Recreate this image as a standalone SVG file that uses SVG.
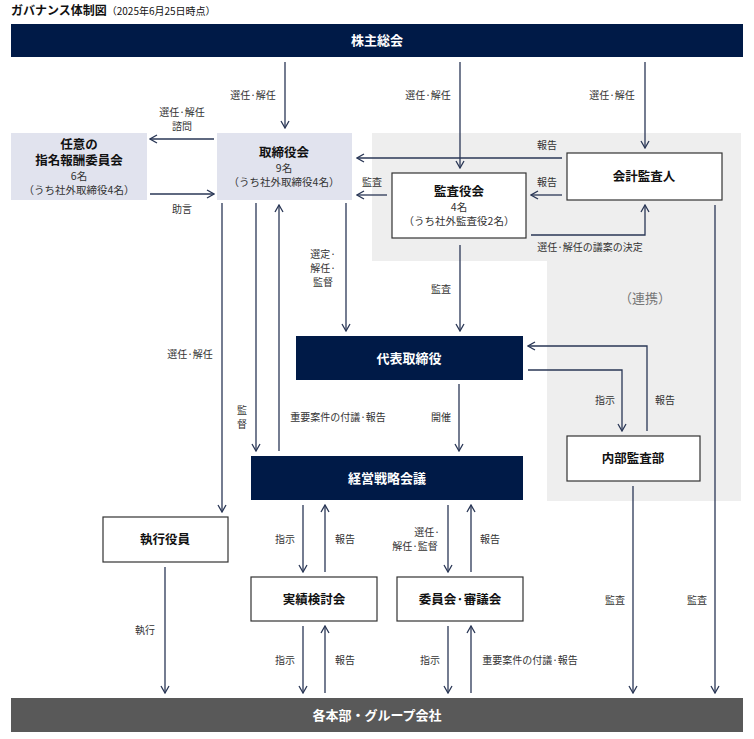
<svg xmlns="http://www.w3.org/2000/svg" width="754" height="739" viewBox="0 0 754 739">
<style>
text{font-family:"Noto Sans CJK JP","Noto Sans",sans-serif;}
.t{font-size:10px;fill:#333;text-anchor:middle}
.b{font-size:12.5px;font-weight:bold;text-anchor:middle;fill:#111}
.w{font-size:13px;font-weight:bold;text-anchor:middle;fill:#fff}
.s{font-size:10.5px;text-anchor:middle;fill:#333}
.navy{fill:#001a47}
.lav{fill:#e1e3ee}
.box{fill:#fff;stroke:#333;stroke-width:1.2}
.c line,.c polyline{stroke:#2a3756;stroke-width:1.3;fill:none;marker-end:url(#a)}
</style>
<defs>
<marker id="a" viewBox="0 0 10 10" refX="9" refY="5" markerWidth="10" markerHeight="10" markerUnits="userSpaceOnUse" orient="auto">
<polyline points="2,1 9,5 2,9" fill="none" stroke="#2a3756" stroke-width="1.3"/>
</marker>
</defs>
<rect width="754" height="739" fill="#fff"/>
<polygon points="372,133 741,133 741,501 547,501 547,261 372,261" fill="#eeeeee"/>
<text x="11" y="15" style="font-size:12px;font-weight:bold;fill:#111">ガバナンス体制図<tspan style="font-size:10px;font-weight:normal">（2025年6月25日時点）</tspan></text>
<text x="645" y="303" style="font-size:13px;fill:#777;text-anchor:middle">（連携）</text>

<g id="kabunushi"><rect class="navy" x="11" y="24" width="732" height="33"/><text class="w" x="377" y="45">株主総会</text></g>
<g id="nin-i"><rect class="lav" x="11" y="133" width="136" height="67"/><text class="b" x="79" y="149">任意の</text><text class="b" x="79" y="165">指名報酬委員会</text><text class="s" x="79" y="180">6名</text><text class="s" x="79" y="194">（うち社外取締役4名）</text></g>
<g id="torishimariyakukai"><rect class="lav" x="217" y="133" width="135" height="67"/><text class="b" x="284" y="157">取締役会</text><text class="s" x="284" y="172">9名</text><text class="s" x="284" y="186">（うち社外取締役4名）</text></g>
<g id="kansayakukai"><rect class="box" x="392" y="173" width="134" height="65"/><text class="b" x="459" y="196">監査役会</text><text class="s" x="459" y="211">4名</text><text class="s" x="459" y="225">（うち社外監査役2名）</text></g>
<g id="kaikei"><rect class="box" x="567" y="153" width="155" height="47"/><text class="b" x="644" y="181">会計監査人</text></g>
<g id="daihyo"><rect class="navy" x="296" y="336" width="227" height="44"/><text class="w" x="409" y="363">代表取締役</text></g>
<g id="naibu"><rect class="box" x="567" y="436" width="133" height="45"/><text class="b" x="633" y="463">内部監査部</text></g>
<g id="keiei"><rect class="navy" x="251" y="456" width="272" height="44"/><text class="w" x="387" y="483">経営戦略会議</text></g>
<g id="shikko"><rect class="box" x="103" y="517" width="125" height="45"/><text class="b" x="165" y="544">執行役員</text></g>
<g id="jisseki"><rect class="box" x="251" y="577" width="126" height="44"/><text class="b" x="314" y="604">実績検討会</text></g>
<g id="iinkai"><rect class="box" x="397" y="577" width="126" height="44"/><text class="b" x="460" y="604">委員会·審議会</text></g>
<g id="kakubu"><rect fill="#595959" x="11" y="698" width="732" height="34"/><text class="w" x="377" y="720">各本部・グループ会社</text></g>

<g id="connectors" class="c">
<line x1="285" y1="62" x2="285" y2="128"/>
<line x1="460" y1="62" x2="460" y2="168"/>
<line x1="645" y1="62" x2="645" y2="148"/>
<line x1="214" y1="139" x2="150" y2="139"/>
<line x1="150" y1="194" x2="214" y2="194"/>
<line x1="562" y1="158" x2="357" y2="158"/>
<line x1="387" y1="195" x2="357" y2="195"/>
<line x1="562" y1="195" x2="531" y2="195"/>
<polyline points="531,235 645,235 645,205"/>
<line x1="460" y1="245" x2="460" y2="331"/>
<line x1="222" y1="203" x2="222" y2="512"/>
<line x1="256" y1="203" x2="256" y2="451"/>
<line x1="279" y1="451" x2="279" y2="205"/>
<line x1="346" y1="203" x2="346" y2="331"/>
<line x1="459" y1="384" x2="459" y2="451"/>
<polyline points="528,370 622,370 622,431"/>
<polyline points="647,431 647,346 528,346"/>
<line x1="303" y1="505" x2="303" y2="572"/>
<line x1="325" y1="572" x2="325" y2="505"/>
<line x1="448" y1="505" x2="448" y2="572"/>
<line x1="471" y1="572" x2="471" y2="505"/>
<line x1="303" y1="626" x2="303" y2="693"/>
<line x1="325" y1="693" x2="325" y2="626"/>
<line x1="448" y1="626" x2="448" y2="693"/>
<line x1="471" y1="693" x2="471" y2="626"/>
<line x1="165" y1="567" x2="165" y2="693"/>
<line x1="633" y1="486" x2="633" y2="693"/>
<line x1="715" y1="205" x2="715" y2="693"/>
</g>
<g id="labels">
<text class="t" x="253" y="99">選任·解任</text>
<text class="t" x="428" y="99">選任·解任</text>
<text class="t" x="612" y="99">選任·解任</text>
<text class="t" x="182" y="116">選任·解任</text><text class="t" x="182" y="130">諮問</text>
<text class="t" x="182" y="213">助言</text>
<text class="t" x="547" y="149">報告</text>
<text class="t" x="372" y="186">監査</text>
<text class="t" x="547" y="186">報告</text>
<text class="t" x="590" y="251">選任·解任の議案の決定</text>
<text class="t" x="441" y="293">監査</text>
<text class="t" x="190" y="358">選任·解任</text>
<text class="t" x="242" y="414">監</text><text class="t" x="242" y="428">督</text>
<text class="t" x="338" y="421">重要案件の付議·報告</text>
<text class="t" x="323" y="258">選定·</text><text class="t" x="323" y="272">解任·</text><text class="t" x="323" y="286">監督</text>
<text class="t" x="441" y="421">開催</text>
<text class="t" x="605" y="404">指示</text>
<text class="t" x="665" y="404">報告</text>
<text class="t" x="285" y="543">指示</text>
<text class="t" x="345" y="543">報告</text>
<text class="t" x="427" y="536">選任·</text><text class="t" x="415" y="550">解任·監督</text>
<text class="t" x="490" y="543">報告</text>
<text class="t" x="285" y="664">指示</text>
<text class="t" x="345" y="664">報告</text>
<text class="t" x="430" y="664">指示</text>
<text class="t" x="530" y="664">重要案件の付議·報告</text>
<text class="t" x="145" y="634">執行</text>
<text class="t" x="615" y="604">監査</text>
<text class="t" x="697" y="604">監査</text>
</g>
</svg>
